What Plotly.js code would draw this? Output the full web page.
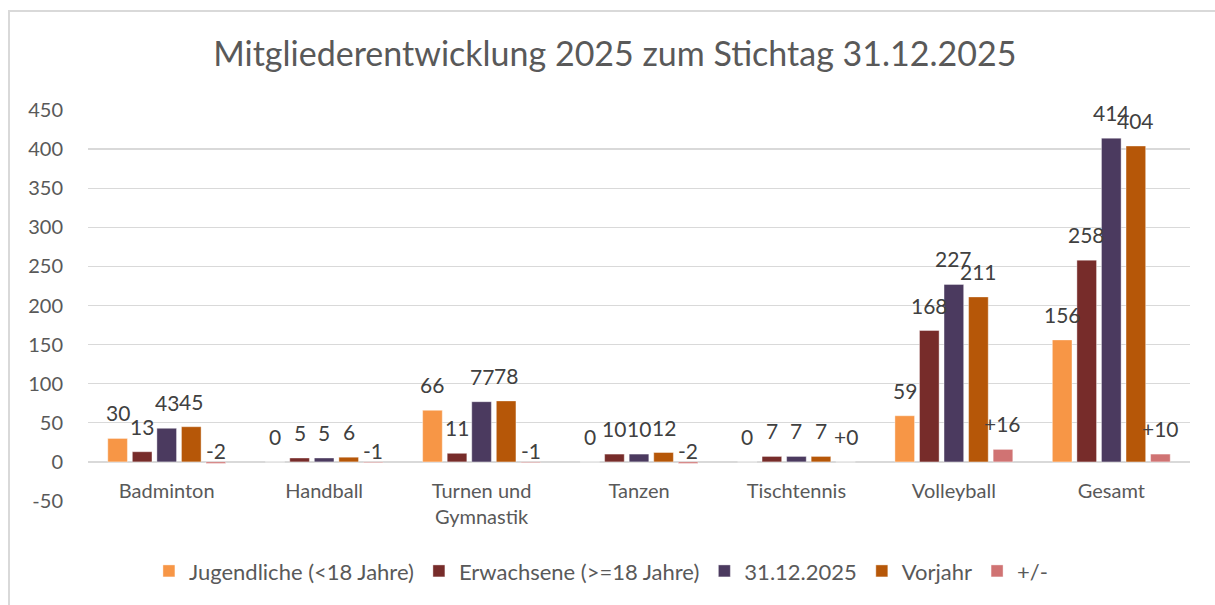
<!DOCTYPE html>
<html>
<head>
<meta charset="utf-8">
<script src="https://cdn.plot.ly/plotly-3.0.1.min.js"></script>
<style>
  html, body { margin: 0; padding: 0; background: #fff; }
  #wrap { position: relative; width: 1215px; height: 605px; overflow: hidden; }
  #chart { width: 1215px; height: 605px; }
  #frame { position: absolute; left: 8px; top: 10px; width: 1300px; height: 700px;
           border-top: 2px solid #d9d9d9; border-left: 2px solid #d9d9d9; pointer-events: none; }
</style>
</head>
<body>
<div id="wrap">
  <div id="chart"></div>
  <div id="frame"></div>
</div>
<script>
// ---- data ----
const categories = ["Badminton", "Handball", "Turnen und<br>Gymnastik", "Tanzen", "Tischtennis", "Volleyball", "Gesamt"];
const seriesNames = ["Jugendliche (<18 Jahre)", "Erwachsene (>=18 Jahre)", "31.12.2025", "Vorjahr", "+/-"];
const jugendliche = [30, 0, 66, 0, 0, 59, 156];
const erwachsene  = [13, 5, 11, 10, 7, 168, 258];
const stichtag    = [43, 5, 77, 10, 7, 227, 414];
const vorjahr     = [45, 6, 78, 12, 7, 211, 404];
const differenz   = [-2, -1, -1, -2, 0, 16, 10];
const yTicks = [-50, 0, 50, 100, 150, 200, 250, 300, 350, 400, 450];

// ---- style ----
const colors = ["#F79646", "#772C2A", "#4B3A5F", "#B65708", "#D07373"];
const FONT = "Lato, 'Noto Sans', sans-serif";
const bargap = 0.22;
const allSeries = [jugendliche, erwachsene, stichtag, vorjahr, differenz];

const fmt = (v, k) => {
  if (k === 4) return (v >= 0 ? "+" : "") + v;
  return String(v);
};

const traces = allSeries.map((vals, k) => ({
  type: "bar",
  name: seriesNames[k],
  x: categories,
  y: vals,
  marker: { color: colors[k], line: { color: "rgba(255,255,255,0.5)", width: 0.8 } },
  hoverinfo: "x+y+name"
}));

// data labels placed through the axes from the data arrays
const slot = (1 - bargap) / allSeries.length;
const annotations = [];
allSeries.forEach((vals, k) => {
  vals.forEach((v, i) => {
    annotations.push({
      xref: "x", yref: "y",
      x: i + (k - (allSeries.length - 1) / 2) * slot,
      y: v,
      text: fmt(v, k),
      showarrow: false,
      xanchor: "center",
      yanchor: "bottom",
      yshift: v < 0 ? -2 : 11,
      font: { family: FONT, size: 21, color: "#404040" }
    });
  });
});

const layout = {
  width: 1215, height: 605,
  paper_bgcolor: "#ffffff", plot_bgcolor: "#ffffff",
  margin: { l: 88, r: 25, t: 110, b: 104 },
  font: { family: FONT, color: "#595959" },
  title: {
    text: "Mitgliederentwicklung 2025 zum Stichtag 31.12.2025",
    font: { family: FONT, size: 34, color: "#595959" },
    x: 0.506, xanchor: "center", y: 0.91, yanchor: "middle"
  },
  barmode: "group",
  bargap: bargap,
  bargroupgap: 0.2,
  showlegend: true,
  legend: {
    orientation: "h",
    xref: "container", yref: "container",
    x: 0.495, xanchor: "center", y: 0.056, yanchor: "middle",
    font: { family: FONT, size: 22, color: "#595959" },
    traceorder: "normal"
  },
  xaxis: {
    type: "category",
    anchor: "free", position: 0.1,
    showgrid: false, showline: false, zeroline: false,
    ticks: "", ticklabelstandoff: 15,
    tickfont: { family: FONT, size: 20, color: "#595959" },
    fixedrange: true
  },
  yaxis: {
    range: [-50, 450],
    tickvals: yTicks,
    ticktext: yTicks.map(String),
    showgrid: true, gridcolor: "#d9d9d9", gridwidth: 1.3,
    zeroline: true, zerolinecolor: "#d9d9d9", zerolinewidth: 1.3,
    showline: false, ticks: "", ticklabelstandoff: 24,
    tickfont: { family: FONT, size: 20, color: "#595959" },
    fixedrange: true
  },
  annotations: annotations
};

Plotly.newPlot("chart", traces, layout, { displayModeBar: false, staticPlot: true });
</script>
</body>
</html>
